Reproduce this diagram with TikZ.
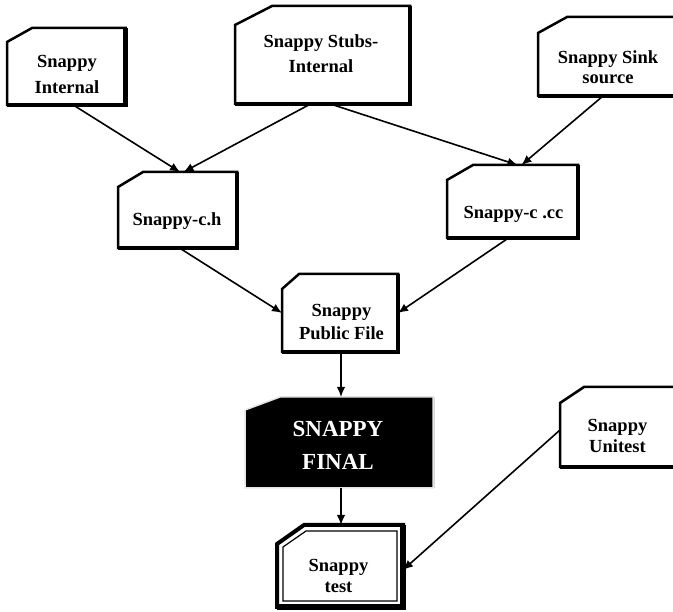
\documentclass[tikz,border=0pt]{standalone}
\usepackage{fontspec}
\setmainfont{Liberation Serif}
\usetikzlibrary{arrows.meta}
\tikzset{
  boxn/.style={draw=none, inner sep=0pt, outer sep=0pt, rectangle},
  txt/.style={align=center, inner sep=0pt, font=\bfseries\fontsize{18.5}{#1}\selectfont},
  txt/.default=24,
  thinedge/.style={line width=2.5pt, line join=miter},
  thickedge/.style={line width=4.6pt, line join=miter},
  conn/.style={line width=1.6pt, -{Latex[length=10pt,width=8.5pt]}},
}
% x1 y1 x2 y2 dx dy
\newcommand\cardoutline[6]{%
  \draw[thinedge,fill=white] (#3,#2) -- ({#1+#5},#2) -- (#1,{#2+#6}) -- (#1,#4) -- (#3,#4) -- cycle;
  \draw[thickedge] (#3,#2) -- (#3,#4) -- (#1,#4);}
\begin{document}
\begin{tikzpicture}[x=1pt,y=-1pt]
\useasboundingbox (0,0) rectangle (673,612);
\clip (0,0) rectangle (673,612);
\fill[white] (0,0) rectangle (673,612);

% box nodes (invisible, give the shapes names)
\node[boxn, minimum width=118.5pt, minimum height=77pt] (int) at (66.25,66.5) {};
\node[boxn, minimum width=175pt, minimum height=98pt] (stubs) at (322.5,55) {};
\node[boxn, minimum width=152pt, minimum height=79pt] (sink) at (614,56.5) {};
\node[boxn, minimum width=119pt, minimum height=76pt] (ch) at (177.5,210) {};
\node[boxn, minimum width=131pt, minimum height=73pt] (cc) at (512.5,201.5) {};
\node[boxn, minimum width=116pt, minimum height=78pt] (pub) at (340,313) {};
\node[boxn, minimum width=188pt, minimum height=91pt] (final) at (339,442.5) {};
\node[boxn, minimum width=130pt, minimum height=80pt] (unit) at (625,427) {};
\node[boxn, minimum width=126pt, minimum height=82pt] (test) at (340,566) {};

% outlines
\cardoutline{7}{28}{125.5}{105}{25}{14}
\cardoutline{235}{6}{410}{104}{37}{19}
\cardoutline{538}{17}{690}{96}{29}{16}
\cardoutline{118}{172}{237}{248}{25}{15}
\cardoutline{447}{165}{578}{238}{26}{15}
\cardoutline{282}{274}{398}{352}{17}{15}
\cardoutline{560}{387}{690}{467}{24}{16}
% final: black fill, light grey rim
\draw[gray!30, line width=4pt] (433,397) -- (433,488);
\draw[gray!20, line width=1.5pt, fill=black] (433,397) -- (280,397) -- (245,410) -- (245,488) -- (433,488) -- cycle;
% test: double border
\draw[line width=4pt, line join=miter] (403,525) -- (304,525) -- (277,544) -- (277,607) -- (403,607) -- cycle;
\draw[line width=5.5pt] (403,525) -- (403,607) -- (277,607);
\draw[line width=1.2pt, line join=miter] (397,531) -- (306,531) -- (283,547) -- (283,601) -- (397,601) -- cycle;

% texts
\node[txt=26] (int-t) at (67,74.9) {Snappy\\Internal};
\node[txt=25] (stubs-t) at (321,53.4) {Snappy Stubs-\\Internal};
\node[txt=20.5] (sink-t) at (608,67) {Snappy Sink\\source};
\node[txt] (ch-t) at (177,221) {Snappy-c.h};
\node[txt] (cc-t) at (513.5,214) {Snappy-c .cc};
\node[txt=23] (pub-t) at (341.5,322.4) {Snappy\\Public File};
\node[align=center, inner sep=0pt, text=white, font=\bfseries\fontsize{23}{33}\selectfont] (final-t) at (338,445.7) {SNAPPY\\FINAL};
\node[txt=21] (unit-t) at (617.5,436.4) {Snappy\\Unitest};
\node[txt=21] (test-t) at (338.5,576.4) {Snappy\\test};

% connectors
\draw[conn] ([xshift=7pt]int.south) -- ([xshift=2.5pt]ch.north);
\draw[conn] ([xshift=-12pt]stubs.south) -- ([xshift=6pt]ch.north);
\draw[conn] ([xshift=8pt]stubs.south) -- ([xshift=5pt]cc.north);
\draw[conn] ([xshift=-11pt]sink.south) -- ([xshift=9pt]cc.north);
\draw[conn] ([xshift=2pt]ch.south) -- (pub.west);
\draw[conn] ([xshift=-4pt]cc.south) -- (pub.east);
\draw[conn] ([xshift=1pt]pub.south) -- ([xshift=1pt]pub.south |- final.north);
\draw[conn] ([xshift=2pt]final.south) -- ([xshift=2pt]final.south |- test.north);
\draw[conn] ([yshift=-3pt]unit.west) -- ([yshift=-4pt]test.east);
\end{tikzpicture}
\end{document}
